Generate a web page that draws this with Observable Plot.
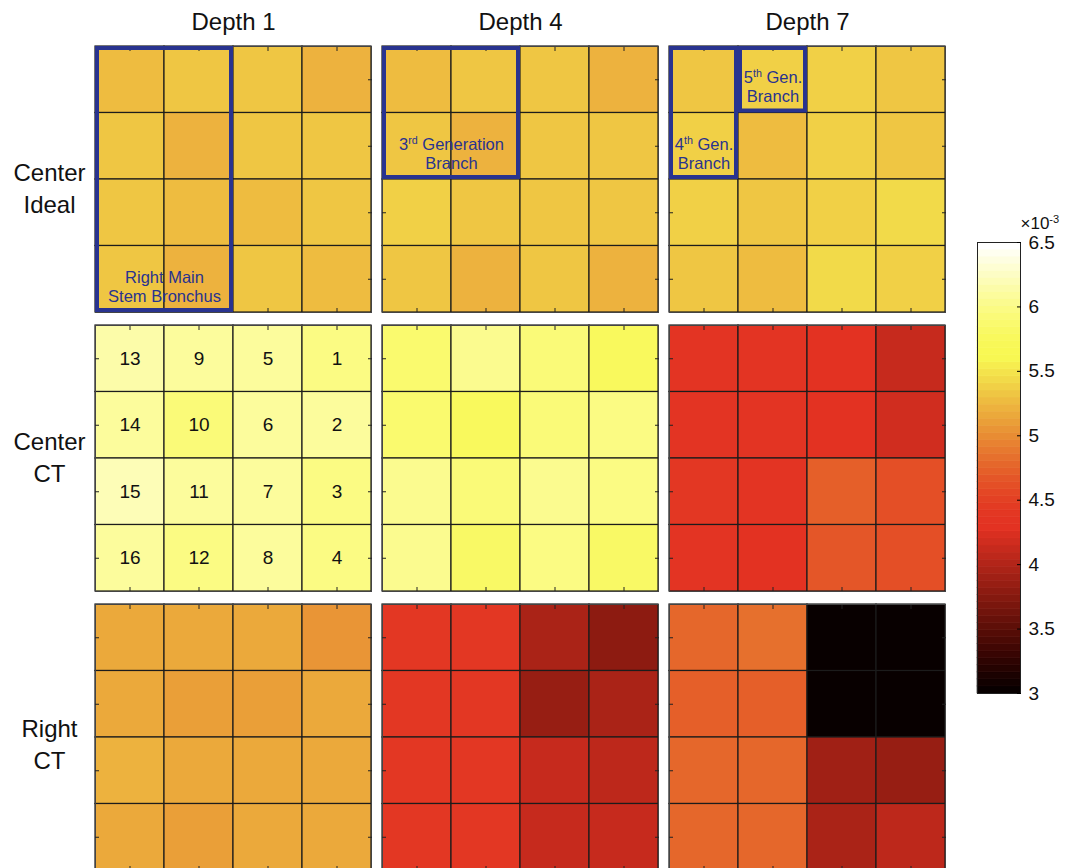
<!DOCTYPE html>
<html>
<head>
<meta charset="utf-8">
<script src="https://cdn.jsdelivr.net/npm/d3@7"></script>
<script src="https://cdn.jsdelivr.net/npm/@observablehq/plot@0.6"></script>
<style>
  html, body { margin: 0; padding: 0; background: #fff; overflow: hidden; }
  #chart { position: relative; width: 1073px; height: 868px; }
  #chart svg { position: absolute; top: 0; }
</style>
</head>
<body>
<div id="chart"></div>
<script>
// ---- data -------------------------------------------------------------
const depths = ["Depth 1", "Depth 4", "Depth 7"];
const samples = ["Center\nIdeal", "Center\nCT", "Right\nCT"];

// Each grid: 4 rows (top to bottom) x 4 columns (left to right)
const centerIdealDepth1 = [
  [5.28e-3, 5.34e-3, 5.30e-3, 5.22e-3],
  [5.32e-3, 5.22e-3, 5.30e-3, 5.30e-3],
  [5.32e-3, 5.28e-3, 5.28e-3, 5.34e-3],
  [5.30e-3, 5.22e-3, 5.34e-3, 5.29e-3]
];
const centerIdealDepth4 = [
  [5.28e-3, 5.34e-3, 5.34e-3, 5.21e-3],
  [5.32e-3, 5.23e-3, 5.34e-3, 5.31e-3],
  [5.38e-3, 5.34e-3, 5.32e-3, 5.34e-3],
  [5.30e-3, 5.22e-3, 5.34e-3, 5.22e-3]
];
const centerIdealDepth7 = [
  [5.30e-3, 5.36e-3, 5.36e-3, 5.32e-3],
  [5.36e-3, 5.28e-3, 5.36e-3, 5.35e-3],
  [5.36e-3, 5.33e-3, 5.36e-3, 5.44e-3],
  [5.32e-3, 5.29e-3, 5.45e-3, 5.38e-3]
];
const centerCTDepth1 = [
  [6.12e-3, 6.10e-3, 6.10e-3, 6.00e-3],
  [6.07e-3, 5.92e-3, 6.10e-3, 6.10e-3],
  [6.20e-3, 6.10e-3, 6.07e-3, 6.00e-3],
  [6.10e-3, 6.00e-3, 6.10e-3, 6.00e-3]
];
const centerCTDepth4 = [
  [5.89e-3, 6.03e-3, 5.94e-3, 5.78e-3],
  [5.89e-3, 5.78e-3, 5.94e-3, 5.99e-3],
  [6.03e-3, 5.94e-3, 6.05e-3, 5.99e-3],
  [6.03e-3, 5.82e-3, 5.99e-3, 5.80e-3]
];
const centerCTDepth7 = [
  [4.36e-3, 4.36e-3, 4.27e-3, 4.12e-3],
  [4.36e-3, 4.36e-3, 4.27e-3, 4.20e-3],
  [4.38e-3, 4.36e-3, 4.73e-3, 4.62e-3],
  [4.32e-3, 4.27e-3, 4.66e-3, 4.62e-3]
];
const rightCTDepth1 = [
  [5.18e-3, 5.18e-3, 5.18e-3, 5.06e-3],
  [5.18e-3, 5.13e-3, 5.13e-3, 5.18e-3],
  [5.23e-3, 5.18e-3, 5.18e-3, 5.18e-3],
  [5.18e-3, 5.13e-3, 5.18e-3, 5.18e-3]
];
const rightCTDepth4 = [
  [4.42e-3, 4.42e-3, 3.94e-3, 3.80e-3],
  [4.42e-3, 4.42e-3, 3.86e-3, 3.94e-3],
  [4.42e-3, 4.42e-3, 4.10e-3, 4.08e-3],
  [4.42e-3, 4.42e-3, 4.10e-3, 4.10e-3]
];
const rightCTDepth7 = [
  [4.77e-3, 4.85e-3, 3.00e-3, 3.00e-3],
  [4.73e-3, 4.73e-3, 3.00e-3, 3.00e-3],
  [4.79e-3, 4.79e-3, 3.92e-3, 3.86e-3],
  [4.75e-3, 4.79e-3, 3.94e-3, 4.04e-3]
];

// Sector numbering shown on the Center CT / Depth 1 grid
const sectorNumbers = [
  [13, 9, 5, 1],
  [14, 10, 6, 2],
  [15, 11, 7, 3],
  [16, 12, 8, 4]
];

// Airway branches outlined on the Center Ideal grids (cell index ranges)
const branchDepth = ["Depth 1", "Depth 4", "Depth 7", "Depth 7"];
const branchCols = [[0, 2], [0, 2], [0, 1], [1, 2]];
const branchRows = [[0, 4], [0, 2], [0, 2], [0, 1]];
const branchNames = ["Right Main\nStem Bronchus", "3^rd Generation\nBranch", "4^th Gen.\nBranch", "5^th Gen.\nBranch"];

const colorTicks = [3.0e-3, 3.5e-3, 4.0e-3, 4.5e-3, 5.0e-3, 5.5e-3, 6.0e-3, 6.5e-3];
const colorUnit = "×10^-3";

// ---- tables built from the arrays ------------------------------------
const grids = [
  [depths[0], samples[0], centerIdealDepth1], [depths[1], samples[0], centerIdealDepth4], [depths[2], samples[0], centerIdealDepth7],
  [depths[0], samples[1], centerCTDepth1],    [depths[1], samples[1], centerCTDepth4],    [depths[2], samples[1], centerCTDepth7],
  [depths[0], samples[2], rightCTDepth1],     [depths[1], samples[2], rightCTDepth4],     [depths[2], samples[2], rightCTDepth7]
];
const cells = grids.flatMap(([depth, sample, grid]) =>
  grid.flatMap((row, r) => row.map((value, c) => ({depth, sample, row: r, col: c, value}))));
const numbers = sectorNumbers.flatMap((row, r) => row.map((n, c) => ({depth: depths[0], sample: samples[1], row: r, col: c, n})));
const branches = branchNames.map((label, i) => ({
  depth: branchDepth[i], sample: samples[0], cols: branchCols[i], rows: branchRows[i], label
}));
const tickCenters = [0, 1, 2, 3].map(i => i + 0.5);

// ---- colour map: MATLAB-style 64-step "hot", slightly softened ----------
const lin = c => c <= 0.04045 ? c / 12.92 : Math.pow((c + 0.055) / 1.055, 2.4);
const enc = c => c <= 0.0031308 ? 12.92 * c : 1.055 * Math.pow(c, 1 / 2.4) - 0.055;
function hot(t) {
  const n = 64;
  const i = Math.max(1, Math.min(n, Math.floor(t * n) + 1));
  const r = Math.min(1, i / 24);
  const g = Math.max(0, Math.min(1, (i - 24) / 24));
  const b = Math.max(0, Math.min(1, (i - 48) / 16));
  const R = lin(r), G = lin(g), B = lin(b);
  const r2 = enc(0.8225 * R + 0.1774 * G);
  const g2 = enc(0.0332 * R + 0.9669 * G);
  const b2 = enc(0.0171 * R + 0.0724 * G + 0.9108 * B);
  // a touch darker on the saturated end, white stays white
  const shade = 0.97 + 0.03 * b;
  const to255 = v => Math.round(Math.max(0, Math.min(1, v * shade)) * 255);
  return `rgb(${to255(r2)},${to255(g2)},${to255(b2)})`;
}
const colorScale = {type: "linear", domain: [colorTicks[0], colorTicks[colorTicks.length - 1]], interpolate: hot, clamp: true};

const FONT = "'Liberation Sans', Arial, Helvetica, sans-serif";
const BLUE = "#29338f";

// superscript markup: "3^rd" -> 3<tspan super>rd</tspan>
function superscripts(root) {
  const walker = document.createTreeWalker(root, NodeFilter.SHOW_TEXT);
  const nodes = [];
  while (walker.nextNode()) if (walker.currentNode.nodeValue.includes("^")) nodes.push(walker.currentNode);
  for (const node of nodes) {
    const parts = node.nodeValue.split(/\^(\S+?)(?=\s|$)/);
    const frag = document.createDocumentFragment();
    parts.forEach((p, i) => {
      if (i % 2) {
        const t = document.createElementNS("http://www.w3.org/2000/svg", "tspan");
        t.setAttribute("baseline-shift", "super");
        t.setAttribute("font-size", "0.65em");
        t.textContent = p;
        frag.appendChild(t);
      } else if (p) frag.appendChild(document.createTextNode(p));
    });
    node.parentNode.replaceChild(frag, node);
  }
}

// ---- panel grid ---------------------------------------------------------
const rowLabelShift = [7, -3, 5];
const tickStyle = {tickSize: -4, fill: "none", stroke: "#222", facetAnchor: null, label: null};

const main = Plot.plot({
  width: 960,
  height: 880,
  marginLeft: 94,
  marginRight: 14,
  marginTop: 45,
  marginBottom: 9,
  style: {fontFamily: FONT, overflow: "visible", background: "transparent"},
  fx: {domain: depths, paddingInner: 0.04, paddingOuter: 0, axis: null},
  fy: {domain: samples, paddingInner: 0.045, paddingOuter: 0, axis: null},
  x: {domain: [0, 4], axis: null},
  y: {domain: [0, 4], reverse: true, axis: null},
  color: colorScale,
  marks: [
    Plot.rect(cells, {
      x1: "col", x2: d => d.col + 1, y1: "row", y2: d => d.row + 1,
      fx: "depth", fy: "sample", fill: "value", stroke: "#1c1c1c", strokeWidth: 1.2
    }),
    Plot.frame({stroke: "#444", strokeWidth: 1}),
    Plot.axisX(tickCenters, {anchor: "bottom", ...tickStyle}),
    Plot.axisX(tickCenters, {anchor: "top", ...tickStyle}),
    Plot.axisY(tickCenters, {anchor: "left", ...tickStyle}),
    Plot.axisY(tickCenters, {anchor: "right", ...tickStyle}),
    Plot.text(numbers, {
      x: d => d.col + 0.5, y: d => d.row + 0.5, fx: "depth", fy: "sample",
      text: "n", fontSize: 19, fill: "#111"
    }),
    Plot.rect(branches, {
      x1: d => d.cols[0], x2: d => d.cols[1], y1: d => d.rows[0], y2: d => d.rows[1],
      fx: "depth", fy: "sample", fill: "none", stroke: BLUE, strokeWidth: 4, inset: 2
    }),
    Plot.text(branches, {
      x: d => (d.cols[0] + d.cols[1]) / 2, y: d => d.rows[1] - 0.5, fx: "depth", fy: "sample",
      text: "label", fill: BLUE, fontSize: 16.5, lineHeight: 1.15, dy: 7
    }),
    Plot.text(depths, {
      fx: d => d, fy: () => samples[0], frameAnchor: "top", text: d => d,
      fontSize: 24, fill: "#111", lineAnchor: "middle", dy: -24
    }),
    ...samples.map((s, i) => Plot.text([s], {
      fx: () => depths[0], fy: d => d, frameAnchor: "left", text: d => d,
      fontSize: 24, fill: "#111", textAnchor: "middle", lineHeight: 1.33, dx: -46, dy: rowLabelShift[i]
    }))
  ]
});

// ---- colour bar -------------------------------------------------------
const nBands = 64;
const lo = colorScale.domain[0], hi = colorScale.domain[1];
const bands = d3.range(nBands).map(i => ({
  y1: lo + (hi - lo) * i / nBands,
  y2: lo + (hi - lo) * (i + 1) / nBands,
  mid: lo + (hi - lo) * (i + 0.5) / nBands
}));

const bar = Plot.plot({
  width: 133,
  height: 868,
  marginLeft: 37,
  marginRight: 53,
  marginTop: 242,
  marginBottom: 175,
  style: {fontFamily: FONT, overflow: "visible", background: "transparent"},
  x: {domain: [0, 1], axis: null},
  y: {domain: [lo, hi], axis: null},
  color: colorScale,
  marks: [
    Plot.rect(bands, {x1: 0, x2: 1, y1: "y1", y2: "y2", fill: "mid", stroke: "mid", strokeWidth: 0.6}),
    Plot.frame({stroke: "#222", strokeWidth: 1}),
    Plot.axisY(colorTicks, {
      anchor: "right", tickSize: -4, tickPadding: 12, label: null, fontSize: 19, fill: "#111",
      tickFormat: d => d3.format("~f")(Math.round(d * 1e4) / 10)
    }),
    Plot.text([colorUnit], {
      x: 1, y: hi, text: d => d, textAnchor: "start", lineAnchor: "bottom",
      dy: -14, dx: 0, fontSize: 17, fill: "#111"
    })
  ]
});

const chart = document.getElementById("chart");
main.style.left = "0px";
bar.style.left = "940px";
chart.appendChild(main);
chart.appendChild(bar);
superscripts(main);
superscripts(bar);
</script>
</body>
</html>
